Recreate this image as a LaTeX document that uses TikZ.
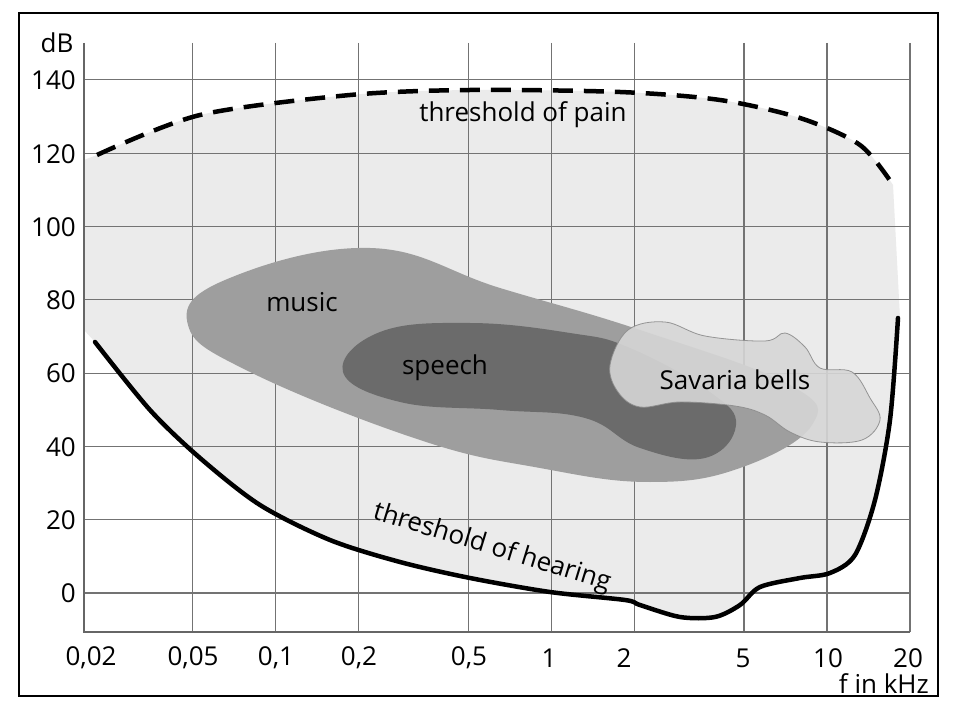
\documentclass[tikz,border=0pt]{standalone}
\usepackage{fontspec}
\setmainfont{Open Sans}
\begin{document}
\begin{tikzpicture}[x=1pt,y=-1pt,
  lab/.style={font=\fontsize{26}{30}\selectfont, inner sep=1pt},
  grid/.style={draw=black!55, line width=1.2pt}]
\useasboundingbox (0,0) rectangle (953,708);
\fill[white] (0,0) rectangle (953,708);
\draw[line width=1.5pt] (19,13) rectangle (938,696);
% shaded audible area
\fill[black!8] (84,160) -- (97,155) -- plot[smooth] coordinates {(97,155)(200,115)(350,95)(470,90)(620,92)(720,100)(800,118)(860,145)(893,185)} -- (900,318) -- plot[smooth] coordinates {(898,318)(890,420)(875,500)(855,555)(830,573)(800,578)(760,587)(740,605)(715,617)(680,617)(640,605)(625,600)(550,592)(470,578)(400,562)(330,540)(260,505)(200,458)(150,410)(95,342)} -- (84,330) -- cycle;
% grid
\foreach \f in {0.05,0.1,0.2,0.5,1,2,5,10,20}{
  \pgfmathsetmacro\xx{83+275.7*log10(\f/0.02)}
  \draw[grid] (\xx,43) -- (\xx,632);}
\foreach \d in {0,20,...,140}{
  \pgfmathsetmacro\yy{593-3.665*\d}
  \draw[grid] (84,\yy) -- (910,\yy);}
\draw[black!60, line width=1.5pt] (84,43) -- (84,632) -- (910,632);
% music
\fill[black!38] plot[smooth cycle, tension=0.7] coordinates {(188,325)(225,280)(370,248)(500,288)(640,330)(790,385)(812,425)(740,468)(650,482)(540,468)(420,440)(250,372)};
% speech
\fill[black!58] plot[smooth cycle, tension=0.7] coordinates {(343,372)(380,332)(470,323)(570,333)(630,348)(710,392)(736,425)(705,458)(640,448)(585,418)(500,410)(400,402)};
% bells
\filldraw[fill=black!16, draw=black!45, line width=0.8pt, opacity=0.9] plot[smooth cycle, tension=0.6] coordinates {(610,365)(628,330)(665,322)(705,336)(765,341)(785,333)(805,347)(820,368)(852,372)(870,398)(880,420)(862,440)(820,442)(790,432)(765,415)(735,406)(680,402)(640,407)(618,392)};
% curves
\draw[line width=4.5pt, dash pattern=on 20pt off 11pt] plot[smooth] coordinates {(97,155)(200,115)(350,95)(470,90)(620,92)(720,100)(800,118)(860,145)(893,185)};
\draw[line width=4.5pt, line cap=round] plot[smooth] coordinates {(95,342)(150,410)(200,458)(260,505)(330,540)(400,562)(470,578)(550,592)(625,600)(640,605)(680,617)(715,617)(740,605)(760,587)(800,578)(830,573)(855,555)(875,500)(890,420)(898,318)};
% labels
\foreach \d/\yy in {0/593,20/520,40/447,60/373,80/300,100/227,120/154,140/80}
  \node[lab, anchor=east] (y\d) at (77,\yy) {\d};
\node[lab] (dB) at (57,43) {dB};
\node[lab] (xa) at (91,658) {0,02};
\node[lab] (xb) at (193,658) {0,05};
\node[lab] (xc) at (276,658) {0,1};
\node[lab] (xd) at (359,658) {0,2};
\node[lab] (xe) at (469,658) {0,5};
\node[lab] (xf) at (549,658) {1};
\node[lab] (xg) at (624,658) {2};
\node[lab] (xh) at (743,658) {5};
\node[lab] (xi) at (828,658) {10};
\node[lab] (xj) at (908,658) {20};
\node[lab, anchor=east] (fk) at (930,684) {f in kHz};
\node[lab] (music) at (302,302) {music};
\node[lab] (speech) at (445,368) {speech};
\node[lab] (bells) at (735,380) {Savaria bells};
\node[lab] (pain) at (523,115) {threshold of pain};
\node[lab, rotate=-17] (hear) at (492,548) {threshold of hearing};
\end{tikzpicture}
\end{document}
